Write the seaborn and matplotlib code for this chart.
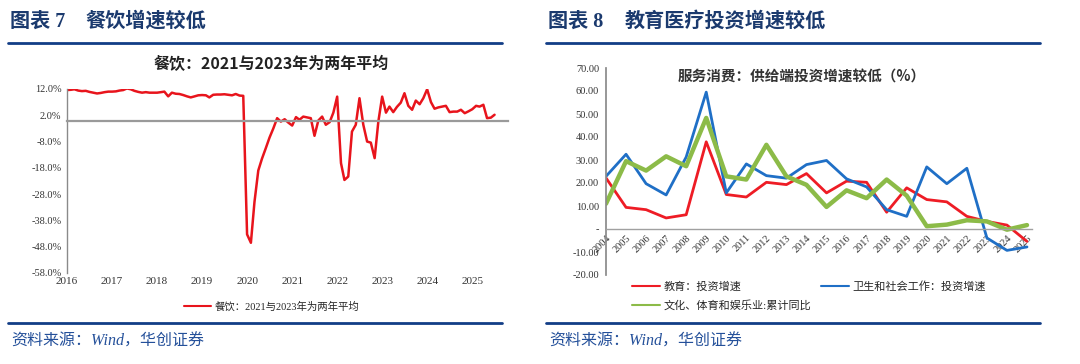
import numpy as np
import pandas as pd
import seaborn as sns
import matplotlib.pyplot as plt
from matplotlib.lines import Line2D
from matplotlib.ticker import FuncFormatter

# ---- data: left panel (catering, monthly yoy %, 2021/2023 two-year avg) ----
catering_start = '2016-01'
catering_values = [
    11.6, 11.7, 11.9, 11.4, 11.2, 11.3, 10.9, 10.6, 10.3, 10.5, 10.8, 11.0,
    11.0, 11.1, 11.4, 11.6, 12.2, 11.9, 11.3, 10.9, 10.6, 10.8, 10.6, 10.6,
    10.6, 10.8, 11.0, 9.2, 10.6, 10.2, 10.1, 9.7, 9.2, 8.8, 9.2, 9.6,
    9.7, 9.6, 8.8, 9.8, 9.9, 9.9, 10.0, 9.8, 9.6, 10.1, 9.5, 9.4,
    -43.3, -46.5, -31.0, -19.0, -14.5, -10.5, -6.5, -3.0, 0.9, -0.4, 0.5, -0.8,
    -1.9, 1.3, 0.3, 1.5, 1.2, 0.9, -5.8, 0.0, 1.5, -1.6, -0.6, 3.0,
    9.1, -16.2, -22.6, -21.3, -4.2, -1.6, 8.5, -1.6, -8.0, -8.4, -14.3, -0.4,
    9.1, 3.0, 5.3, 3.2, 5.2, 6.8, 10.4, 5.6, 4.1, 7.6, 6.2, 8.5,
    11.9, 7.0, 4.5, 5.0, 5.3, 5.6, 3.2, 3.4, 3.4, 4.1, 2.8, 3.5,
    4.3, 5.6, 5.3, 6.0, 0.9, 1.1, 2.2,
]
catering_label = '餐饮：2021与2023年为两年平均'
year_labels_left = ['2016', '2017', '2018', '2019', '2020', '2021', '2022', '2023', '2024', '2025']

# ---- data: right panel (annual investment growth, %) ----
years = list(range(2004, 2026))
edu = [22.2, 9.4, 8.4, 4.8, 6.2, 37.9, 15.0, 13.9, 20.3, 19.3, 24.1,
       15.7, 20.8, 20.3, 7.3, 17.9, 12.8, 11.8, 5.5, 3.3, 1.7, -5.4]
health = [22.9, 32.5, 19.7, 14.8, 31.3, 59.5, 15.7, 28.3, 23.2, 22.1, 28.0,
          29.8, 21.8, 18.3, 8.4, 5.5, 27.0, 19.7, 26.4, -3.9, -9.3, -7.8]
culture = [11.0, 29.5, 25.4, 31.6, 27.3, 48.3, 22.9, 21.5, 36.6, 22.9, 19.2,
           9.6, 16.8, 13.4, 21.5, 14.5, 1.2, 1.9, 3.8, 3.3, -0.3, 1.7]
edu_label = '教育：投资增速'
health_label = '卫生和社会工作：投资增速'
culture_label = '文化、体育和娱乐业:累计同比'

sns.set_theme(style='white')
plt.rcParams['font.family'] = ['Liberation Serif', 'Noto Sans CJK SC', 'DejaVu Sans']
plt.rcParams['axes.unicode_minus'] = False

W, H = 1080, 364
fig = plt.figure(figsize=(W / 100, H / 100), dpi=100)
fig.patch.set_facecolor('white')

NAVY = '#123d86'
HEAD = '#1b3a6e'
GRAY = '#8a8a8a'
CJK = ['Liberation Serif', 'Noto Sans CJK SC']


def px_axes(x0, y0, x1, y1):
    return fig.add_axes([x0 / W, 1 - y1 / H, (x1 - x0) / W, (y1 - y0) / H])


def hrule(x0, x1, y, lw=2.0):
    fig.add_artist(Line2D([x0 / W, x1 / W], [1 - y / H, 1 - y / H],
                          transform=fig.transFigure, color=NAVY, lw=lw))


# headers, rules, footers
for x0, num, x1, title in [(10, '图表 7', 85, '餐饮增速较低'),
                           (548, '图表 8', 625, '教育医疗投资增速较低')]:
    fig.text(x0 / W, 1 - 22 / H, num, fontsize=14.5, fontweight='bold',
             color=HEAD, family=CJK, va='center')
    fig.text(x1 / W, 1 - 22 / H, title, fontsize=14.5, fontweight='bold',
             color=HEAD, family=CJK, va='center')
    fig.text((x0 + 1) / W, 1 - 342 / H, '资料来源：Wind，华创证券', fontsize=11.5,
             style='italic', color='#24509a', family=CJK, va='center')
hrule(8, 502, 43)
hrule(546, 1040, 43)
hrule(8, 502, 323)
hrule(546, 1040, 323)

# ---- left panel ----
df_left = pd.DataFrame({
    'date': pd.date_range(catering_start, periods=len(catering_values), freq='MS'),
    'value': catering_values,
})
axl = px_axes(67, 89, 508, 273)
sns.lineplot(data=df_left, x='date', y='value', ax=axl, color='#e8141c',
             linewidth=1.8, label=catering_label, legend=False)
axl.spines['bottom'].set_position(('data', 0))
axl.set_ylim(-58, 12)
axl.set_yticks(np.arange(-58, 13, 10))
axl.yaxis.set_major_formatter(FuncFormatter(lambda v, p: f'{v:.1f}%'))
year_ticks = pd.to_datetime([y + '-01-01' for y in year_labels_left])
axl.set_xlim(df_left['date'].iloc[0], pd.Timestamp('2025-10-18'))
axl.set_xticks(year_ticks[1:])
axl.set_xticklabels([])
for s in ['top', 'right']:
    axl.spines[s].set_visible(False)
axl.spines['left'].set_color(GRAY)
axl.spines['left'].set_linewidth(1.0)
axl.spines['bottom'].set_color('#9a9a9a')
axl.spines['bottom'].set_linewidth(1.6)
axl.tick_params(axis='x', direction='out', length=3, color='#444444', width=1)
axl.tick_params(axis='y', direction='out', length=3, color=GRAY, labelsize=7.5,
                labelcolor='#333333', pad=1)
axl.set_xlabel('')
axl.set_ylabel('')
sec = axl.secondary_xaxis(0)
sec.set_xticks(year_ticks)
sec.set_xticklabels(year_labels_left, fontsize=8, color='#333333')
sec.tick_params(length=0, pad=3)
sec.spines['bottom'].set_visible(False)
axl.set_facecolor('none')
fig.text(271 / W, 1 - 64 / H, catering_label, fontsize=11.5, fontweight='bold',
         family=['Noto Sans CJK SC'], ha='center', va='center', color='#222222')
hl, ll = axl.get_legend_handles_labels()
fig.legend(hl, ll, loc='center left', bbox_to_anchor=(184 / W, 1 - 307 / H),
           frameon=False, handlelength=2.6, handletextpad=0.3,
           borderpad=0, borderaxespad=0, prop={'family': CJK, 'size': 7.5})

# ---- right panel ----
df_right = pd.DataFrame({'year': years, edu_label: edu,
                         health_label: health, culture_label: culture})
axr = px_axes(606, 68, 1032, 275)
sns.lineplot(data=df_right, x='year', y=edu_label, ax=axr, color='#ee1c25',
             linewidth=2.0, label=edu_label)
sns.lineplot(data=df_right, x='year', y=health_label, ax=axr, color='#1f6fc6',
             linewidth=2.0, label=health_label)
sns.lineplot(data=df_right, x='year', y=culture_label, ax=axr, color='#8cbb48',
             linewidth=3.2, label=culture_label)
axr.spines['bottom'].set_position(('data', 0))
axr.set_ylim(-20, 70)
axr.set_yticks(np.arange(-20, 71, 10))
axr.yaxis.set_major_formatter(FuncFormatter(
    lambda v, p: '-' if abs(v) < 1e-9 else f'{v:.2f}'))
axr.set_xlim(years[0], years[-1] + 0.25)
axr.set_xticks(years)
axr.set_xticklabels([str(y) for y in years], rotation=45, ha='right', va='top',
                    rotation_mode='anchor', fontsize=7.5, color='#333333')
for s in ['top', 'right']:
    axr.spines[s].set_visible(False)
axr.spines['left'].set_color(GRAY)
axr.spines['bottom'].set_color('#a0a0a0')
axr.spines['bottom'].set_linewidth(1.0)
axr.tick_params(axis='x', direction='out', length=2, color=GRAY, pad=1)
axr.tick_params(axis='y', direction='out', length=3, color=GRAY, labelsize=7.5,
                labelcolor='#333333', pad=2)
axr.set_xlabel('')
axr.set_ylabel('')
axr.set_facecolor('none')
axr.text(0.46, 0.96, '服务消费：供给端投资增速较低（%）', transform=axr.transAxes,
         fontsize=10.5, fontweight='bold', family=['Noto Sans CJK SC'],
         ha='center', va='center', color='#333333')
hr, lr = axr.get_legend_handles_labels()
axr.get_legend().remove()
order = [0, 2, 1]
fig.legend([hr[i] for i in order], [lr[i] for i in order], ncol=2,
           loc='upper left', bbox_to_anchor=(632 / W, 1 - 281 / H),
           frameon=False, handlelength=2.5, handletextpad=0.3,
           columnspacing=0.9, labelspacing=0.75, borderpad=0, borderaxespad=0,
           prop={'family': CJK, 'size': 8})
for leg in fig.legends:
    for ln in leg.get_lines():
        ln.set_linewidth(1.5)

fig.savefig('out.png', dpi=100)
